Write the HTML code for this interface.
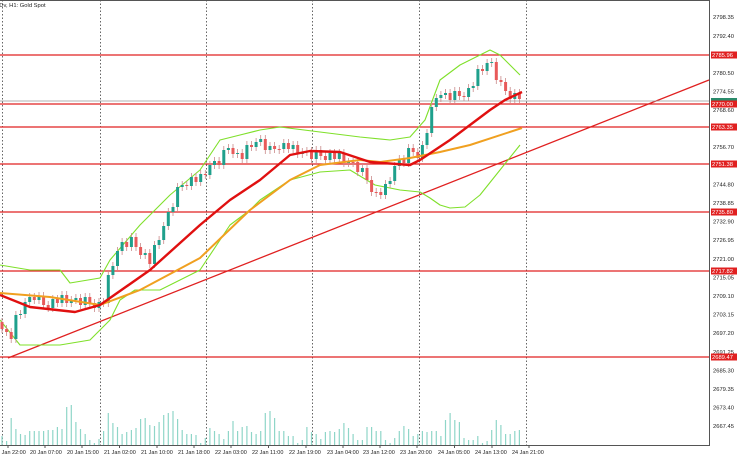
<!DOCTYPE html>
<html><head><meta charset="utf-8"><style>
body{margin:0;background:#fff;width:740px;height:457px;overflow:hidden}
text{font-family:"Liberation Sans",sans-serif;font-size:5.8px;fill:#222}
.d{font-size:5.5px}
.w{fill:#fff}
.g{fill:#1fa08c}.r{fill:#e85a5a}
</style></head><body>
<svg width="740" height="457" viewBox="0 0 740 457" xmlns="http://www.w3.org/2000/svg">
<g stroke="#666" stroke-dasharray="1.5,2">
<line x1="2.5" y1="0" x2="2.5" y2="445"/><line x1="100.5" y1="0" x2="100.5" y2="445"/><line x1="206.5" y1="0" x2="206.5" y2="445"/><line x1="312.5" y1="0" x2="312.5" y2="445"/><line x1="419.5" y1="0" x2="419.5" y2="445"/><line x1="526.5" y1="0" x2="526.5" y2="445"/>
</g>
<path stroke="#8fd6c8" stroke-width="1.2" fill="none" d="M2 445V436M6.6 445V441M11.2 445V418M15.9 445V429M20.5 445V434M25.1 445V435M29.7 445V431M34.3 445V431M39 445V431M43.6 445V431M48.2 445V430M52.8 445V430M57.4 445V427M62 445V429M66.7 445V407M71.3 445V405M75.9 445V422M80.5 445V429M85.2 445V434M89.8 445V440M94.4 445V443M99 445V439M103.6 445V431M108.3 445V413M112.9 445V423M117.5 445V427M122.1 445V434M126.7 445V432M131.4 445V430M136 445V428M140.6 445V419M145.2 445V418M149.8 445V425M154.5 445V426M159.1 445V422M163.7 445V415M168.3 445V413M173 445V411M177.6 445V419M182.2 445V430M186.8 445V434M191.4 445V434M196 445V435M200.7 445V443M205.3 445V438M209.9 445V428M214.5 445V431M219.1 445V434M223.8 445V439M228.4 445V431M233 445V421M237.6 445V431M242.2 445V427M246.9 445V426M251.5 445V432M256.1 445V434M260.7 445V431M265.3 445V413M270 445V411M274.6 445V418M279.2 445V431M283.8 445V431M288.4 445V436M293.1 445V436M297.7 445V443M302.3 445V440M306.9 445V427M311.5 445V432M316.2 445V434M320.8 445V439M325.4 445V432M330 445V431M334.6 445V432M339.3 445V429M343.9 445V423M348.5 445V428M353.1 445V434M357.7 445V440M362.4 445V440M367 445V427M371.6 445V427M376.2 445V431M380.8 445V431M385.5 445V440M390.1 445V443M394.7 445V438M399.3 445V431M403.9 445V426M408.6 445V429M413.2 445V436M417.8 445V434M422.4 445V431M427 445V432M431.7 445V431M436.3 445V431M440.9 445V436M445.5 445V420M450.1 445V413M454.8 445V420M459.4 445V422M464 445V438M468.6 445V440M473.2 445V440M477.8 445V436M482.5 445V443M487.1 445V441M491.7 445V430M496.3 445V420M500.9 445V425M505.6 445V434M510.2 445V434M514.8 445V431M519.4 445V430"/>
<g stroke="#e02020" stroke-width="1.3">
<line x1="0" y1="55" x2="709" y2="55"/><line x1="0" y1="104" x2="709" y2="104"/><line x1="0" y1="127" x2="709" y2="127"/><line x1="0" y1="164" x2="709" y2="164"/><line x1="0" y1="212" x2="709" y2="212"/><line x1="0" y1="271" x2="709" y2="271"/><line x1="0" y1="357" x2="709" y2="357"/>
<line x1="8" y1="358" x2="709" y2="80"/>
</g>
<line x1="0" y1="101" x2="709" y2="101" stroke="#999" stroke-width="0.8"/>
<g fill="none" stroke="#7fe02a" stroke-width="1.1" stroke-linejoin="round">
<polyline points="0,265 30,270 60,270 70,283 100,278 110,260 140,225 170,195 200,170 220,140 240,135 260,130 280,127 320,132 360,137 390,140 410,137 425,120 440,80 460,65 480,55 490,50 500,55 520,75"/>
<polyline points="0,320 20,345 60,345 90,340 100,330 110,320 120,300 135,290 160,290 200,270 230,225 250,210 260,200 290,180 320,172 350,170 375,185 400,190 420,192 430,198 440,205 450,208 465,207 480,195 500,170 520,145"/>
</g>
<path stroke="#c98a8a" stroke-width="0.8" fill="none" d="M2 318V333M6.6 325V336M11.2 328V343M15.9 311V343M20.5 310V319M25.1 298V318M29.7 293V306M34.3 293V304M39 292V304M43.6 292V309M48.2 301V312M52.8 295V312M57.4 295V307M62 291V307M66.7 291V307M71.3 296V307M75.9 294V304M80.5 294V309M85.2 293V309M89.8 293V307M94.4 299V312M99 298V312M103.6 298V307M108.3 271V307M112.9 262V279M117.5 247V270M122.1 238V255M126.7 238V251M131.4 233V251M136 233V251M140.6 243V259M145.2 249V259M149.8 249V268M154.5 241V268M159.1 236V249M163.7 222V244M168.3 208V230M173 203V216M177.6 183V211M182.2 181V191M186.8 181V190M191.4 173V190M196 173V186M200.7 170V186M205.3 170V179M209.9 161V179M214.5 157V169M219.1 157V169M223.8 146V169M228.4 144V154M233 144V158M237.6 149V158M242.2 149V163M246.9 141V163M251.5 141V151M256.1 138V151M260.7 135V146M265.3 135V154M270 142V154M274.6 142V153M279.2 145V154M283.8 139V153M288.4 139V153M293.1 141V153M297.7 141V158M302.3 148V158M306.9 147V156M311.5 147V163M316.2 146V163M320.8 146V160M325.4 152V164M330 149V164M334.6 149V163M339.3 149V163M343.9 149V167M348.5 158V167M353.1 158V167M357.7 158V176M362.4 164V176M367 164V184M371.6 176V196M376.2 188V197M380.8 188V199M385.5 180V199M390.1 177V188M394.7 162V185M399.3 155V170M403.9 155V167M408.6 144V167M413.2 144V156M417.8 148V162M422.4 141V162M427 129V149M431.7 103V137M436.3 94V111M440.9 91V102M445.5 89V99M450.1 89V104M454.8 87V104M459.4 87V100M464 92V101M468.6 84V101M473.2 82V92M477.8 65V90M482.5 65V75M487.1 59V75M491.7 58V67M496.3 58V84M500.9 76V86M505.6 78V95M510.2 87V103M514.8 89V103M519.4 89V103"/>
<g>
<rect class="r" x="0.5" y="322" width="3" height="7"/><rect class="r" x="5.1" y="329" width="3" height="3"/><rect class="r" x="9.7" y="332" width="3" height="7"/><rect class="g" x="14.4" y="315" width="3" height="24"/><rect class="g" x="19" y="314" width="3" height="1"/><rect class="g" x="23.6" y="302" width="3" height="12"/><rect class="g" x="28.2" y="297" width="3" height="5"/><rect class="r" x="32.8" y="297" width="3" height="3"/><rect class="g" x="37.5" y="296" width="3" height="4"/><rect class="r" x="42.1" y="296" width="3" height="9"/><rect class="r" x="46.7" y="305" width="3" height="3"/><rect class="g" x="51.3" y="299" width="3" height="9"/><rect class="r" x="55.9" y="299" width="3" height="4"/><rect class="g" x="60.5" y="295" width="3" height="8"/><rect class="r" x="65.2" y="295" width="3" height="8"/><rect class="g" x="69.8" y="300" width="3" height="3"/><rect class="g" x="74.4" y="298" width="3" height="2"/><rect class="r" x="79" y="298" width="3" height="7"/><rect class="g" x="83.7" y="297" width="3" height="8"/><rect class="r" x="88.3" y="297" width="3" height="6"/><rect class="r" x="92.9" y="303" width="3" height="5"/><rect class="g" x="97.5" y="302" width="3" height="6"/><rect class="r" x="102.1" y="302" width="3" height="1"/><rect class="g" x="106.8" y="275" width="3" height="28"/><rect class="g" x="111.4" y="266" width="3" height="9"/><rect class="g" x="116" y="251" width="3" height="15"/><rect class="g" x="120.6" y="242" width="3" height="9"/><rect class="r" x="125.2" y="242" width="3" height="5"/><rect class="g" x="129.9" y="237" width="3" height="10"/><rect class="r" x="134.5" y="237" width="3" height="10"/><rect class="r" x="139.1" y="247" width="3" height="8"/><rect class="g" x="143.7" y="253" width="3" height="2"/><rect class="r" x="148.3" y="253" width="3" height="11"/><rect class="g" x="153" y="245" width="3" height="19"/><rect class="g" x="157.6" y="240" width="3" height="5"/><rect class="g" x="162.2" y="226" width="3" height="14"/><rect class="g" x="166.8" y="212" width="3" height="14"/><rect class="g" x="171.5" y="207" width="3" height="5"/><rect class="g" x="176.1" y="187" width="3" height="20"/><rect class="g" x="180.7" y="185" width="3" height="2"/><rect class="r" x="185.3" y="185" width="3" height="1"/><rect class="g" x="189.9" y="177" width="3" height="9"/><rect class="r" x="194.5" y="177" width="3" height="5"/><rect class="g" x="199.2" y="174" width="3" height="8"/><rect class="r" x="203.8" y="174" width="3" height="1"/><rect class="g" x="208.4" y="165" width="3" height="10"/><rect class="g" x="213" y="161" width="3" height="4"/><rect class="r" x="217.6" y="161" width="3" height="4"/><rect class="g" x="222.3" y="150" width="3" height="15"/><rect class="g" x="226.9" y="148" width="3" height="2"/><rect class="r" x="231.5" y="148" width="3" height="6"/><rect class="g" x="236.1" y="153" width="3" height="1"/><rect class="r" x="240.7" y="153" width="3" height="6"/><rect class="g" x="245.4" y="145" width="3" height="14"/><rect class="r" x="250" y="145" width="3" height="2"/><rect class="g" x="254.6" y="142" width="3" height="5"/><rect class="g" x="259.2" y="139" width="3" height="3"/><rect class="r" x="263.8" y="139" width="3" height="11"/><rect class="g" x="268.5" y="146" width="3" height="4"/><rect class="r" x="273.1" y="146" width="3" height="3"/><rect class="r" x="277.7" y="149" width="3" height="1"/><rect class="g" x="282.3" y="143" width="3" height="6"/><rect class="r" x="286.9" y="143" width="3" height="6"/><rect class="g" x="291.6" y="145" width="3" height="4"/><rect class="r" x="296.2" y="145" width="3" height="9"/><rect class="g" x="300.8" y="152" width="3" height="2"/><rect class="g" x="305.4" y="151" width="3" height="1"/><rect class="r" x="310" y="151" width="3" height="8"/><rect class="g" x="314.7" y="150" width="3" height="9"/><rect class="r" x="319.3" y="150" width="3" height="6"/><rect class="r" x="323.9" y="156" width="3" height="4"/><rect class="g" x="328.5" y="153" width="3" height="7"/><rect class="r" x="333.1" y="153" width="3" height="6"/><rect class="g" x="337.8" y="153" width="3" height="6"/><rect class="r" x="342.4" y="153" width="3" height="10"/><rect class="g" x="347" y="162" width="3" height="1"/><rect class="r" x="351.6" y="162" width="3" height="1"/><rect class="r" x="356.2" y="162" width="3" height="10"/><rect class="g" x="360.9" y="168" width="3" height="4"/><rect class="r" x="365.5" y="168" width="3" height="12"/><rect class="r" x="370.1" y="180" width="3" height="12"/><rect class="r" x="374.7" y="192" width="3" height="1"/><rect class="r" x="379.3" y="192" width="3" height="3"/><rect class="g" x="384" y="184" width="3" height="11"/><rect class="g" x="388.6" y="181" width="3" height="3"/><rect class="g" x="393.2" y="166" width="3" height="15"/><rect class="g" x="397.8" y="159" width="3" height="7"/><rect class="r" x="402.4" y="159" width="3" height="4"/><rect class="g" x="407.1" y="148" width="3" height="15"/><rect class="r" x="411.7" y="148" width="3" height="4"/><rect class="r" x="416.3" y="152" width="3" height="6"/><rect class="g" x="420.9" y="145" width="3" height="13"/><rect class="g" x="425.5" y="133" width="3" height="12"/><rect class="g" x="430.2" y="107" width="3" height="26"/><rect class="g" x="434.8" y="98" width="3" height="9"/><rect class="g" x="439.4" y="95" width="3" height="3"/><rect class="g" x="444" y="93" width="3" height="2"/><rect class="r" x="448.6" y="93" width="3" height="7"/><rect class="g" x="453.3" y="91" width="3" height="9"/><rect class="r" x="457.9" y="91" width="3" height="5"/><rect class="r" x="462.5" y="96" width="3" height="1"/><rect class="g" x="467.1" y="88" width="3" height="9"/><rect class="g" x="471.7" y="86" width="3" height="2"/><rect class="g" x="476.4" y="69" width="3" height="17"/><rect class="r" x="481" y="69" width="3" height="2"/><rect class="g" x="485.6" y="63" width="3" height="8"/><rect class="g" x="490.2" y="62" width="3" height="1"/><rect class="r" x="494.8" y="62" width="3" height="18"/><rect class="r" x="499.5" y="80" width="3" height="2"/><rect class="r" x="504.1" y="82" width="3" height="9"/><rect class="r" x="508.7" y="91" width="3" height="8"/><rect class="g" x="513.3" y="93" width="3" height="6"/><rect class="r" x="517.9" y="93" width="3" height="6"/>
</g>
<polyline fill="none" stroke="#f0a020" stroke-width="2" stroke-linejoin="round" points="0,293 50,297 100,305 140,290 200,258 250,210 290,180 320,165 360,160 380,162 410,158 440,152 470,145 522,128"/>
<polyline fill="none" stroke="#e01010" stroke-width="2.4" stroke-linejoin="round" points="0,295 30,307 75,312 100,305 150,270 200,225 230,200 260,180 290,155 310,151 340,152 370,162 410,165 420,160 450,140 470,125 490,110 505,100 522,92"/>
<g stroke="#555">
<line x1="709.5" y1="0" x2="709.5" y2="445"/><line x1="0" y1="445.5" x2="710" y2="445.5"/><line x1="0" y1="0.5" x2="710" y2="0.5"/>
</g>
<g>
<text x="713" y="19">2798.35</text><text x="713" y="38">2792.40</text><text x="713" y="75">2780.50</text><text x="713" y="93.5">2774.55</text><text x="713" y="112">2768.60</text><text x="713" y="149">2756.70</text><text x="713" y="186.5">2744.80</text><text x="713" y="205">2738.85</text><text x="713" y="223.5">2732.90</text><text x="713" y="242">2726.95</text><text x="713" y="261">2721.00</text><text x="713" y="279.5">2715.05</text><text x="713" y="298">2709.10</text><text x="713" y="316.5">2703.15</text><text x="713" y="335">2697.20</text><text x="713" y="354">2691.25</text><text x="713" y="372.5">2685.30</text><text x="713" y="391">2679.35</text><text x="713" y="409.5">2673.40</text><text x="713" y="428">2667.45</text>
</g>
<rect x="711" y="98" width="26" height="4" fill="#2a8a6a"/>
<g fill="#e02020">
<rect x="711" y="51.5" width="26" height="7"/><rect x="711" y="100.5" width="26" height="7"/><rect x="711" y="123.5" width="26" height="7"/><rect x="711" y="160.5" width="26" height="7"/><rect x="711" y="208.5" width="26" height="7"/><rect x="711" y="267.5" width="26" height="7"/><rect x="711" y="353.5" width="26" height="7"/>
</g>
<g>
<text class="w" x="712" y="57.2">2785.96</text><text class="w" x="712" y="106.2">2770.00</text><text class="w" x="712" y="129.2">2763.35</text><text class="w" x="712" y="166.2">2751.38</text><text class="w" x="712" y="214.2">2735.80</text><text class="w" x="712" y="273.2">2717.82</text><text class="w" x="712" y="359.2">2689.47</text>
</g>
<g stroke="#555"><path d="M8 445V448M45 445V448M82 445V448M119.5 445V448M157 445V448M194 445V448M231 445V448M268.5 445V448M306 445V448M343 445V448M380 445V448M417 445V448M454.5 445V448M492 445V448M529 445V448"/></g>
<g class="d">
<text class="d" x="-6" y="454">19 Jan 22:00</text><text class="d" x="30" y="454">20 Jan 07:00</text><text class="d" x="67" y="454">20 Jan 15:00</text><text class="d" x="104" y="454">21 Jan 02:00</text><text class="d" x="141" y="454">21 Jan 10:00</text><text class="d" x="178" y="454">21 Jan 18:00</text><text class="d" x="215" y="454">22 Jan 03:00</text><text class="d" x="252" y="454">22 Jan 11:00</text><text class="d" x="289" y="454">22 Jan 19:00</text><text class="d" x="327" y="454">23 Jan 04:00</text><text class="d" x="363" y="454">23 Jan 12:00</text><text class="d" x="400" y="454">23 Jan 20:00</text><text class="d" x="438" y="454">24 Jan 05:00</text><text class="d" x="475" y="454">24 Jan 13:00</text><text class="d" x="512" y="454">24 Jan 21:00</text>
</g>
<text x="-2" y="7">lDv, H1:  Gold Spot</text>
</svg>
</body></html>
